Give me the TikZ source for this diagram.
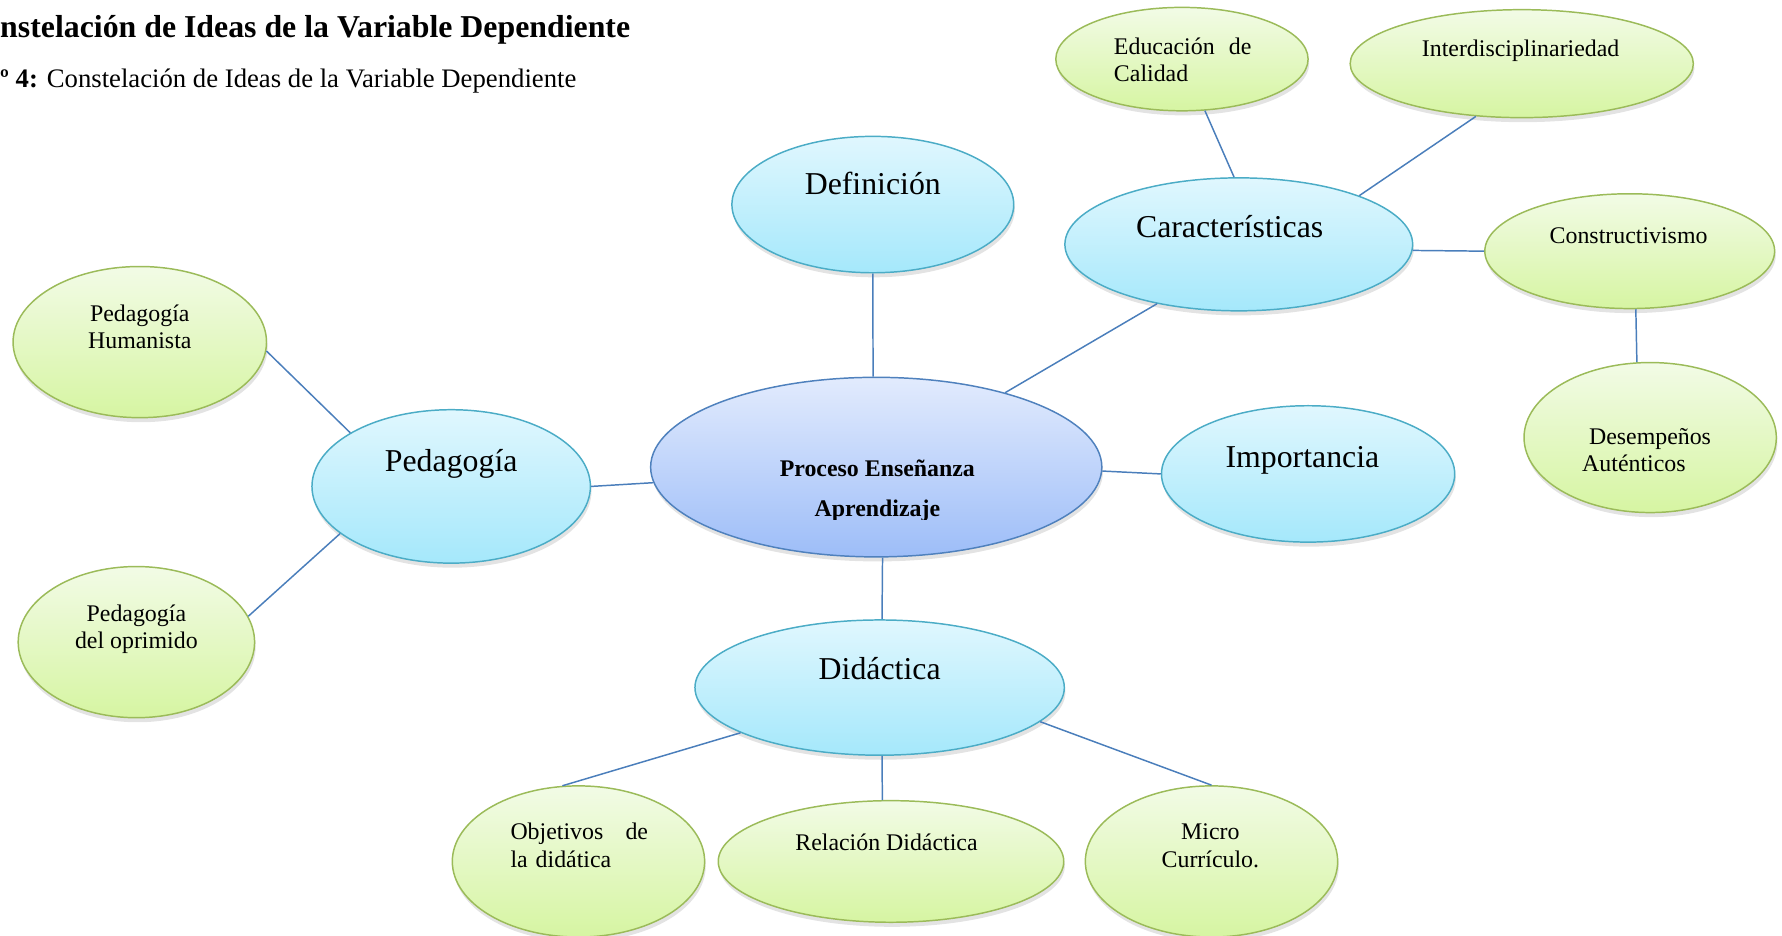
\documentclass[tikz,border=0pt]{standalone}
\usepackage{fontspec}
\setmainfont{Liberation Serif}
\usepackage{tikz}
\usetikzlibrary{shapes.geometric, shadows}

\definecolor{bluetop}{HTML}{E0F7FE}
\definecolor{bluebot}{HTML}{A5E8FB}
\definecolor{bluebd}{HTML}{4BACC6}
\definecolor{greentop}{HTML}{F2FBE6}
\definecolor{greenbot}{HTML}{D6F5A2}
\definecolor{greenbd}{HTML}{9BBB59}
\definecolor{maintop}{HTML}{E2EBFD}
\definecolor{mainbot}{HTML}{9DBDF8}
\definecolor{mainbd}{HTML}{4F81BD}
\definecolor{linkc}{HTML}{4A7EBB}

\tikzset{
	dims/.style 2 args={minimum width=#1, minimum height=#2},
	bubble/.style={ellipse, inner sep=0pt, line width=1.3pt,
		drop shadow={shadow xshift=1pt, shadow yshift=-4pt, opacity=.22}},
	bluebox/.style={bubble, draw=bluebd, top color=bluetop, bottom color=bluebot},
	greenbox/.style={bubble, draw=greenbd, top color=greentop, bottom color=greenbot},
	mainbox/.style={bubble, draw=mainbd, top color=maintop, bottom color=mainbot},
	bigtxt/.style={font=\fontsize{28}{32}\selectfont, anchor=base, inner sep=0pt},
	smalltxt/.style={font=\fontsize{21}{24}\selectfont, anchor=base, inner sep=0pt, align=center},
	link/.style={draw=linkc, line width=1.3pt}
}

\begin{document}
\begin{tikzpicture}[x=1pt, y=-1pt]
	\useasboundingbox (0,0) rectangle (1568,823);
	
	% Titles
	\node[anchor=base west, inner sep=0pt, font=\bfseries\fontsize{28}{32}\selectfont] (title) at (0,33) {nstelación de Ideas de la Variable Dependiente};
	\node[anchor=base west, inner sep=0pt, font=\fontsize{23.5}{28}\selectfont] (caption) at (0,77) {\textbf{º 4:} Constelación de Ideas de la Variable Dependiente};
	
	% Main ideas
	\node[mainbox, dims={397}{158}] (pea) at (771,411) {};
	\node[bluebox, dims={248}{120}] (def) at (768,180) {};
	\node[bluebox, dims={306}{117}] (car) at (1090,215) {};
	\node[bluebox, dims={258}{120}] (imp) at (1151,417) {};
	\node[bluebox, dims={245}{135}] (ped) at (397,428) {};
	\node[bluebox, dims={325}{119}] (did) at (774,605) {};
	
	% Secondary ideas
	\node[greenbox, dims={223}{133}] (hum) at (123,301) {};
	\node[greenbox, dims={208}{133}] (opr) at (120,565) {};
	\node[greenbox, dims={222}{91}] (edu) at (1040,52) {};
	\node[greenbox, dims={302}{95}] (int) at (1339,56) {};
	\node[greenbox, dims={255}{101}] (con) at (1434,221) {};
	\node[greenbox, dims={222}{132}] (des) at (1452,385) {};
	\node[greenbox, dims={222}{133}] (obj) at (509,758) {};
	\node[greenbox, dims={304}{107}] (rel) at (784,758) {};
	\node[greenbox, dims={222}{133}] (mic) at (1066,758) {};
	
	% Connectors
	\foreach \from/\to in {def.south/pea.92, car.216/pea.30, pea.-1/imp.180,
		ped.east/pea.184, pea.-86.5/did.88, ped.152/hum.-4.6, ped.203/opr.13.6,
		car.94/edu.-66.5, car.22/int.229, car.-2/con.180, con.-84.4/des.100.7,
		did.198/obj.102, did.-88/rel.98.6, did.-12/mic.north}
	{
		\draw[link] (\from) -- (\to);
	}
	
	% Labels
	\begin{scope}
		\clip (560,300) rectangle (990,457);
		\node[anchor=base, inner sep=0pt, align=center, font=\bfseries\fontsize{21}{35}\selectfont] (peal) at (772,454.5) {Proceso Enseñanza\\Aprendizaje};
	\end{scope}
	\node[bigtxt] (defl) at (768,171) {Definición};
	\node[bigtxt] (carl) at (1082,209) {Características};
	\node[bigtxt] (impl) at (1146,411) {Importancia};
	\node[bigtxt] (pedl) at (397,415) {Pedagogía};
	\node[bigtxt] (didl) at (774,598) {Didáctica};
	
	\node[smalltxt] (huml) at (123,306.5) {Pedagogía\\Humanista};
	\node[smalltxt] (oprl) at (120,571) {Pedagogía\\del oprimido};
	\node[smalltxt, anchor=base west, text width=121pt, align=left] (edul) at (980,48) {Educación\hfill de\\Calidad};
	\node[smalltxt] (intl) at (1338,50) {Interdisciplinariedad};
	\node[smalltxt] (conl) at (1433,214) {Constructivismo};
	\node[smalltxt, anchor=base west, align=left] (desl) at (1392,415) {\hspace*{6pt}Desempeños\\Auténticos};
	\node[smalltxt, anchor=base west, text width=121pt, align=left] (objl) at (449,739) {Objetivos\hfill de\\la didática};
	\node[smalltxt] (rell) at (780,748.5) {Relación Didáctica};
	\node[smalltxt] (micl) at (1065,763) {Micro\\Currículo.};
\end{tikzpicture}
\end{document}
